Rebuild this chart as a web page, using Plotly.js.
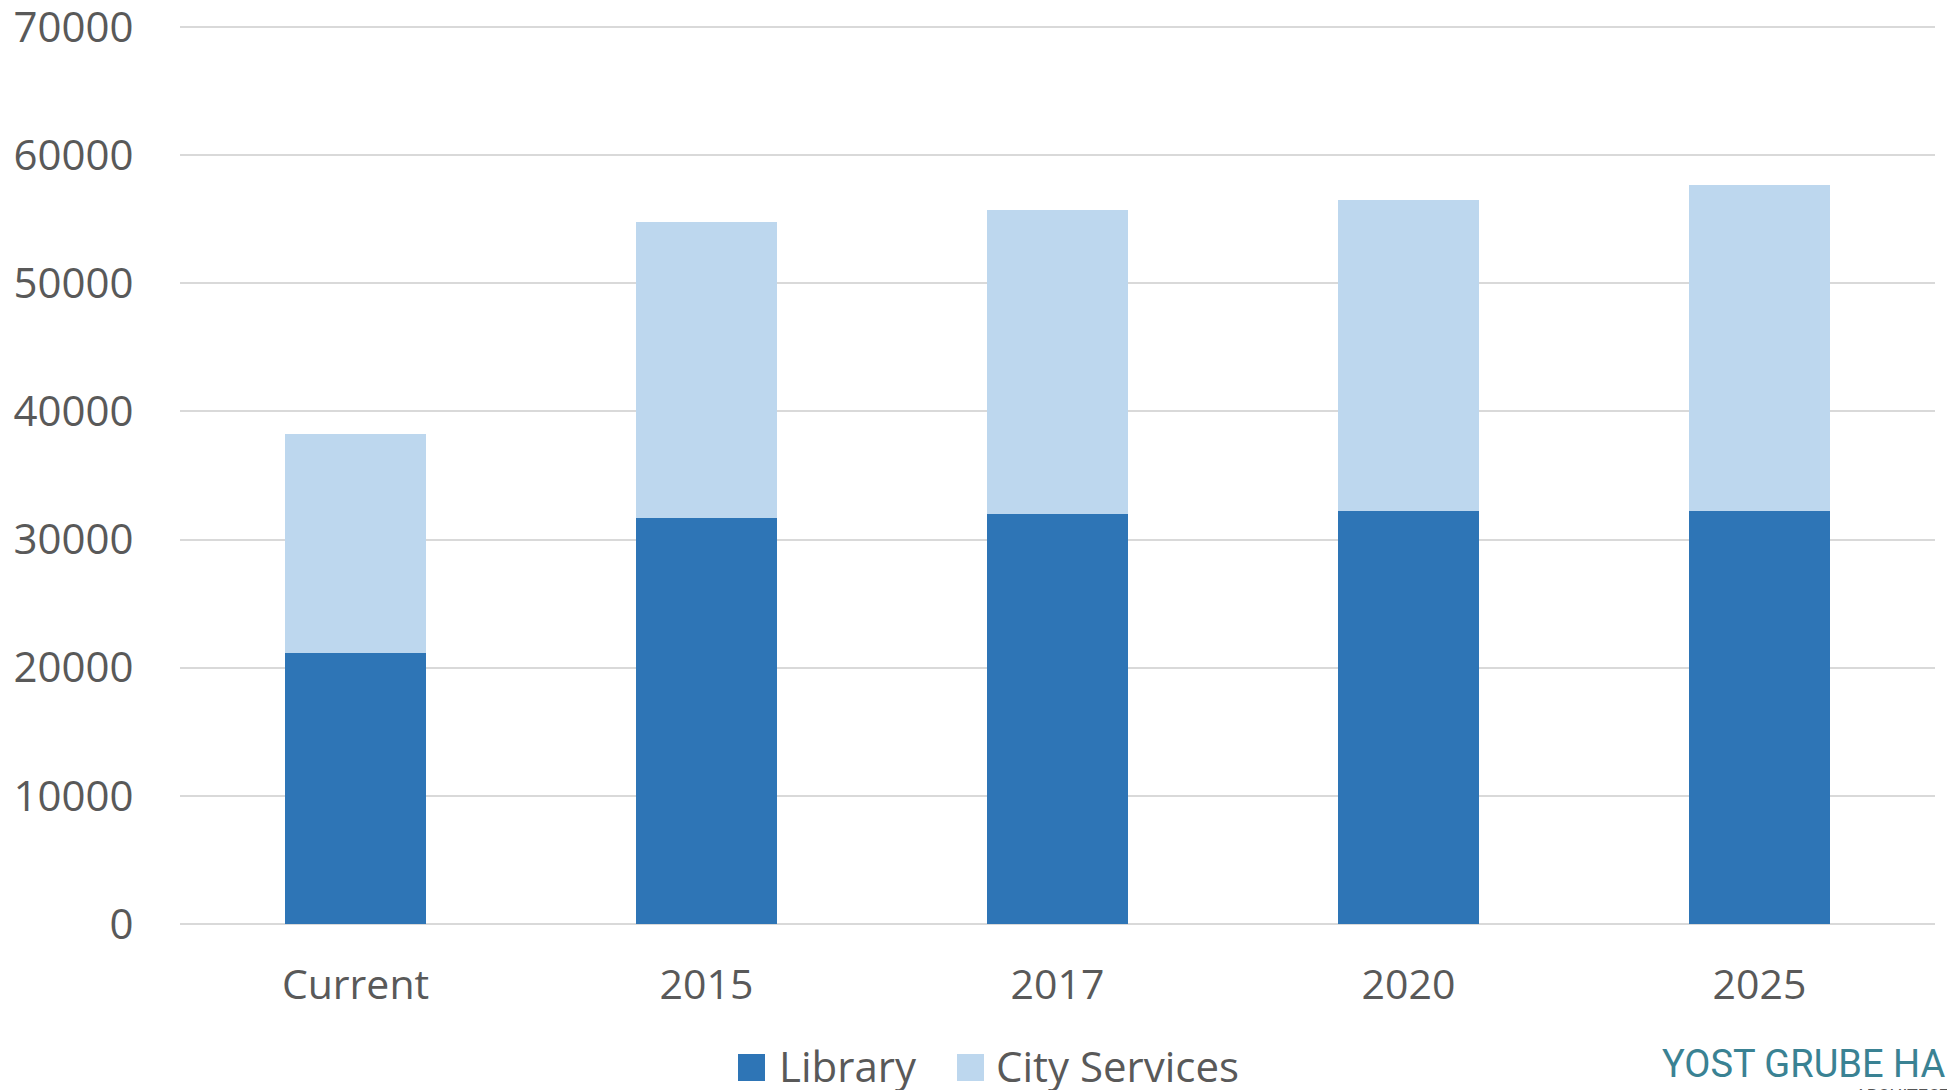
<!DOCTYPE html>
<html>
<head>
<meta charset="utf-8">
<script src="https://cdn.plot.ly/plotly-3.0.1.min.js"></script>
<style>html,body{margin:0;padding:0;background:#fff;}#chart{width:1947px;height:1090px;}</style>
</head>
<body>
<div id="chart"></div>
<script>
const categories = ["Current", "2015", "2017", "2020", "2025"];
const library = [21160, 31690, 32030, 32190, 32190];
const cityServices = [17060, 23090, 23660, 24280, 25450];
const yTicks = [0, 10000, 20000, 30000, 40000, 50000, 60000, 70000];

const seriesNames = ["Library", "City Services"];
const seriesColors = ["#2E75B6", "#BDD7EE"];

const font = "'Open Sans', 'Noto Sans', sans-serif";
const textColor = "#595959";

// plot-area geometry (pixels) used only to place the legend / logo in paper units
const W = 1947, H = 1090;
const M = {l: 180, r: 12, t: 25, b: 166};
const pw = W - M.l - M.r, ph = H - M.t - M.b;
const px = x => (x - M.l) / pw;
const py = y => (H - M.b - y) / ph;

const traces = [
  {type: "bar", name: seriesNames[0], x: categories, y: library,
   marker: {color: seriesColors[0], line: {width: 0}}},
  {type: "bar", name: seriesNames[1], x: categories, y: cityServices,
   marker: {color: seriesColors[1], line: {width: 0}}}
];

// legend drawn as shapes + annotations so the key squares match the reference size
const legendItems = [
  {name: seriesNames[0], color: seriesColors[0], sx: 738, tx: 777},
  {name: seriesNames[1], color: seriesColors[1], sx: 957, tx: 994}
];
const shapes = legendItems.map(it => ({
  type: "rect", xref: "paper", yref: "paper",
  x0: px(it.sx), x1: px(it.sx + 27), y0: py(1081), y1: py(1054),
  fillcolor: it.color, line: {width: 0}
}));
const annotations = legendItems.map(it => ({
  xref: "paper", yref: "paper", x: px(it.tx), y: py(1065),
  xanchor: "left", yanchor: "middle", showarrow: false,
  text: it.name, font: {family: font, size: 42, color: textColor}
}));
annotations.push(
  {xref: "paper", yref: "paper", x: px(1660), y: py(1064),
   xanchor: "left", yanchor: "middle", showarrow: false,
   text: "YOST GRUBE HALL", font: {family: "Roboto, sans-serif", size: 38, color: "#3A8293"}},
  {xref: "paper", yref: "paper", x: px(1853), y: py(1095),
   xanchor: "left", yanchor: "middle", showarrow: false,
   text: "ARCHITECTURE", font: {family: "Roboto, sans-serif", size: 18, color: "#555555"}}
);

const layout = {
  width: W, height: H,
  margin: {l: M.l, r: M.r, t: M.t, b: M.b, pad: 0},
  paper_bgcolor: "#ffffff", plot_bgcolor: "#ffffff",
  barmode: "stack",
  bargap: 0.6,
  showlegend: false,
  font: {family: font, color: textColor, size: 41},
  xaxis: {
    type: "category",
    categoryorder: "array", categoryarray: categories,
    showgrid: false, zeroline: false, showline: false,
    ticks: "outside", ticklen: 25, tickcolor: "rgba(0,0,0,0)",
    tickfont: {family: font, size: 41, color: textColor},
    fixedrange: true
  },
  yaxis: {
    range: [0, 70150],
    tickvals: yTicks,
    ticktext: yTicks.map(String),
    ticklabeloverflow: "allow",
    showgrid: true, gridcolor: "#D9D9D9", gridwidth: 2,
    zeroline: true, zerolinecolor: "#D9D9D9", zerolinewidth: 2,
    showline: false,
    ticks: "outside", ticklen: 37, tickcolor: "rgba(0,0,0,0)",
    tickfont: {family: font, size: 42, color: textColor},
    fixedrange: true
  },
  shapes: shapes,
  annotations: annotations
};

Plotly.newPlot("chart", traces, layout, {displayModeBar: false, staticPlot: true});
</script>
</body>
</html>
